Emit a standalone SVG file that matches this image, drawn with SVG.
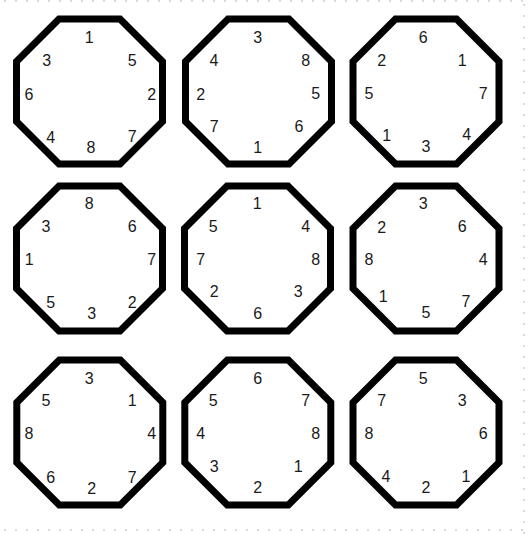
<svg xmlns="http://www.w3.org/2000/svg" width="529" height="534" viewBox="0 0 529 534">
<style>
.oct{fill:#fff;stroke:#000;stroke-width:7;stroke-linejoin:miter}
.n{font-family:"Liberation Sans",Arial,sans-serif;font-size:16px;fill:#1a1a1a;text-anchor:middle}
.dot{stroke:#d9d9d9;stroke-width:2;stroke-dasharray:2 9;fill:none}
</style>
<defs>
<polygon id="octShape" points="-30.5,-72.5 30.5,-72.5 73,-30 73,30 30.5,72.5 -30.5,72.5 -73,30 -73,-30"/>
</defs>
<rect width="529" height="534" fill="#fff"/>
<g id="frame">
<line class="dot" x1="4" y1="1" x2="529" y2="1"/>
<line class="dot" x1="524" y1="4" x2="524" y2="534"/>
<line class="dot" x1="4" y1="530" x2="529" y2="530"/>
</g>
<g id="oct1">
<use href="#octShape" class="oct" transform="translate(89.5,91.5)"/>
<text class="n" x="89.3" y="43.3">1</text>
<text class="n" x="132.3" y="65.7">5</text>
<text class="n" x="151.7" y="100">2</text>
<text class="n" x="132.3" y="141.7">7</text>
<text class="n" x="91" y="153.3">8</text>
<text class="n" x="50.7" y="142.7">4</text>
<text class="n" x="29" y="100">6</text>
<text class="n" x="46.7" y="65.7">3</text>
</g>
<g id="oct2">
<use href="#octShape" class="oct" transform="translate(258.5,91.5)"/>
<text class="n" x="257.7" y="43.3">3</text>
<text class="n" x="305.7" y="66">8</text>
<text class="n" x="315.7" y="99.3">5</text>
<text class="n" x="299" y="131.7">6</text>
<text class="n" x="257.7" y="153.3">1</text>
<text class="n" x="214.3" y="131.7">7</text>
<text class="n" x="200.7" y="100">2</text>
<text class="n" x="214" y="66">4</text>
</g>
<g id="oct3">
<use href="#octShape" class="oct" transform="translate(426,91.5)"/>
<text class="n" x="423.3" y="43.3">6</text>
<text class="n" x="462.3" y="65.7">1</text>
<text class="n" x="483.3" y="99.3">7</text>
<text class="n" x="466.7" y="140">4</text>
<text class="n" x="426" y="151.7">3</text>
<text class="n" x="386.7" y="141">1</text>
<text class="n" x="369" y="99.3">5</text>
<text class="n" x="381.7" y="65.7">2</text>
</g>
<g id="oct4">
<use href="#octShape" class="oct" transform="translate(89.5,258.5)"/>
<text class="n" x="89.3" y="209.3">8</text>
<text class="n" x="132.3" y="231.7">6</text>
<text class="n" x="151.7" y="265">7</text>
<text class="n" x="132.3" y="307.7">2</text>
<text class="n" x="91.7" y="319">3</text>
<text class="n" x="50.7" y="307.7">5</text>
<text class="n" x="29.3" y="265">1</text>
<text class="n" x="46" y="231.7">3</text>
</g>
<g id="oct5">
<use href="#octShape" class="oct" transform="translate(257.5,258.5)"/>
<text class="n" x="257.3" y="209.3">1</text>
<text class="n" x="305.7" y="232.3">4</text>
<text class="n" x="315.7" y="265">8</text>
<text class="n" x="298.3" y="296.7">3</text>
<text class="n" x="257.7" y="319">6</text>
<text class="n" x="214.3" y="297.3">2</text>
<text class="n" x="200.7" y="265">7</text>
<text class="n" x="213.3" y="232.3">5</text>
</g>
<g id="oct6">
<use href="#octShape" class="oct" transform="translate(426,258.5)"/>
<text class="n" x="423.3" y="209.3">3</text>
<text class="n" x="462.3" y="232.3">6</text>
<text class="n" x="483.3" y="265">4</text>
<text class="n" x="466" y="307.3">7</text>
<text class="n" x="426" y="318.3">5</text>
<text class="n" x="383.3" y="302.3">1</text>
<text class="n" x="369" y="265">8</text>
<text class="n" x="381.7" y="232.7">2</text>
</g>
<g id="oct7">
<use href="#octShape" class="oct" transform="translate(89.8,432.5)"/>
<text class="n" x="89.3" y="384.3">3</text>
<text class="n" x="132.3" y="406">1</text>
<text class="n" x="151.7" y="439.3">4</text>
<text class="n" x="132.3" y="482.7">7</text>
<text class="n" x="91.7" y="494">2</text>
<text class="n" x="50.7" y="482.7">6</text>
<text class="n" x="29" y="439.3">8</text>
<text class="n" x="46" y="406">5</text>
</g>
<g id="oct8">
<use href="#octShape" class="oct" transform="translate(257.8,432.5)"/>
<text class="n" x="257.7" y="384.3">6</text>
<text class="n" x="305.7" y="406">7</text>
<text class="n" x="315.7" y="439.3">8</text>
<text class="n" x="298.3" y="471.7">1</text>
<text class="n" x="257.7" y="493.3">2</text>
<text class="n" x="214.3" y="471.7">3</text>
<text class="n" x="200.7" y="439.3">4</text>
<text class="n" x="213.3" y="406">5</text>
</g>
<g id="oct9">
<use href="#octShape" class="oct" transform="translate(426,432.5)"/>
<text class="n" x="423.3" y="384.3">5</text>
<text class="n" x="462.3" y="406">3</text>
<text class="n" x="483.3" y="439.3">6</text>
<text class="n" x="466" y="481.7">1</text>
<text class="n" x="426" y="493.3">2</text>
<text class="n" x="386" y="481.7">4</text>
<text class="n" x="369" y="439.3">8</text>
<text class="n" x="381.7" y="406">7</text>
</g>
<g id="connectors"></g>
</svg>
